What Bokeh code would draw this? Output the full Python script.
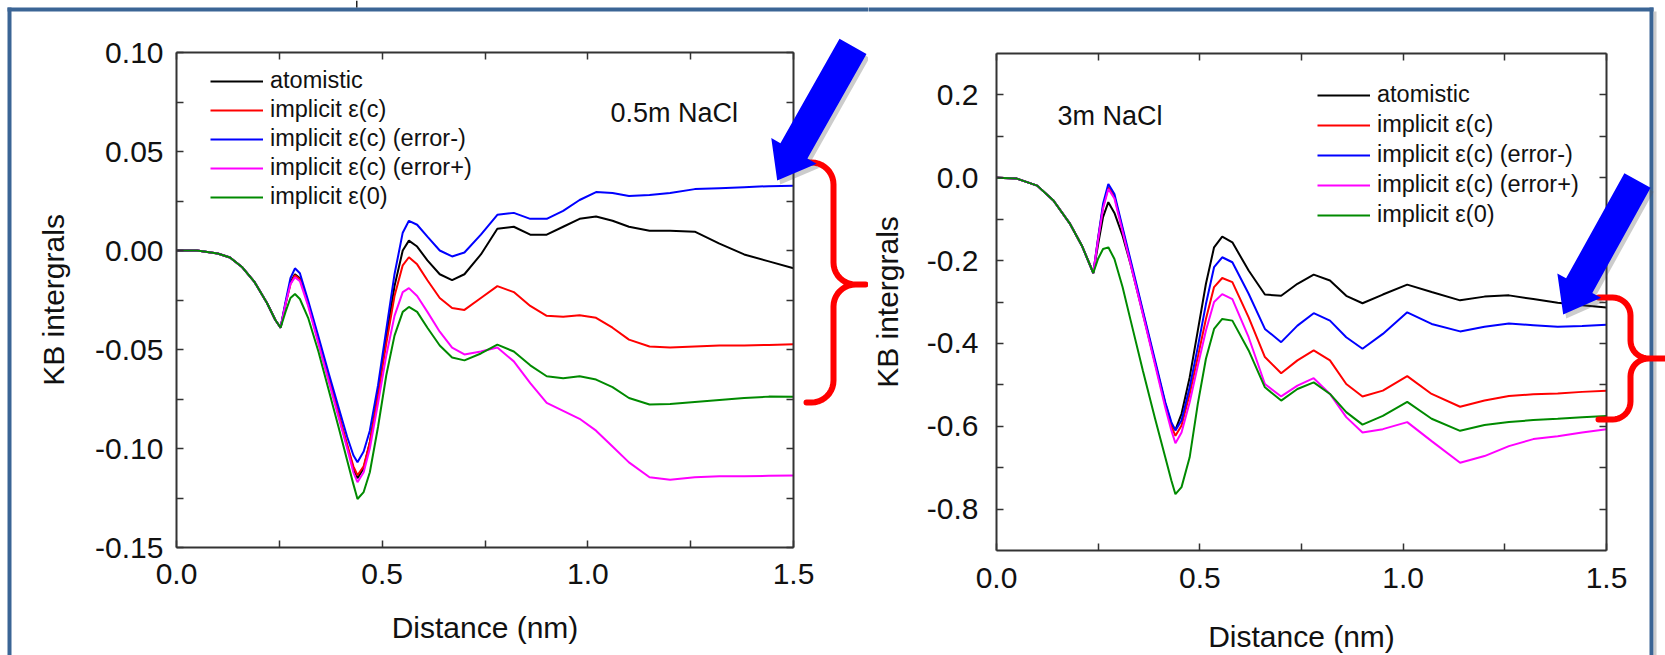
import math
from bokeh.plotting import figure
from bokeh.models import (Range1d, LinearAxis, FixedTicker, NumeralTickFormatter,
                          CustomJSTickFormatter, Legend, LegendItem, Label, PolyAnnotation)
from bokeh.layouts import row
from bokeh.embed import file_html
from bokeh.resources import INLINE

FONT = "Liberation Sans"

# ---------------- data ----------------
series_names = ["atomistic", "implicit ε(c)", "implicit ε(c) (error-)",
                "implicit ε(c) (error+)", "implicit ε(0)"]
series_colors = ["#000000", "#ff0000", "#0000ff", "#ff00ff", "#008a00"]

x_ticks = [0.0, 0.5, 1.0, 1.5]
x_minor = [0.25, 0.75, 1.25]

# 0.5m NaCl
left_y_ticks = [-0.15, -0.10, -0.05, 0.0, 0.05, 0.10]
left_y_minor = [-0.125, -0.075, -0.025, 0.025, 0.075]
left_x = [0.00, 0.05, 0.10, 0.13, 0.16, 0.19, 0.22, 0.24, 0.253,
          0.265, 0.277, 0.288, 0.30, 0.32, 0.345, 0.37, 0.395, 0.415, 0.43,
          0.44, 0.455, 0.47, 0.49, 0.51, 0.53, 0.55, 0.565, 0.585, 0.61,
          0.64, 0.67, 0.70, 0.74, 0.78, 0.82, 0.86, 0.90, 0.94, 0.98,
          1.02, 1.06, 1.10, 1.15, 1.20, 1.26, 1.32, 1.38, 1.44, 1.50]
left_common = [0.0, 0.0, -0.0015, -0.0035, -0.0085, -0.016, -0.0265, -0.035, -0.039]
left_atomistic = left_common + [
    -0.027, -0.016, -0.012, -0.014, -0.027, -0.046, -0.065, -0.084, -0.099, -0.110,
    -0.115, -0.110, -0.097, -0.072, -0.044, -0.018, 0.000, 0.005, 0.002, -0.005,
    -0.012, -0.015, -0.012, -0.002, 0.011, 0.012, 0.008, 0.008, 0.012, 0.016,
    0.0172, 0.015, 0.012, 0.010, 0.010, 0.0095, 0.0035, -0.002, -0.0055, -0.009]
left_eps_c = left_common + [
    -0.027, -0.017, -0.0125, -0.0145, -0.0265, -0.045, -0.064, -0.083, -0.098, -0.109,
    -0.1135, -0.109, -0.097, -0.073, -0.047, -0.023, -0.0075, -0.0034, -0.007, -0.015,
    -0.024, -0.029, -0.030, -0.024, -0.018, -0.021, -0.028, -0.033, -0.0335, -0.0327,
    -0.034, -0.039, -0.045, -0.0485, -0.049, -0.0485, -0.048, -0.048, -0.0477, -0.0474]
left_eps_c_minus = left_common + [
    -0.026, -0.014, -0.009, -0.0115, -0.0253, -0.0435, -0.062, -0.080, -0.0942, -0.1034,
    -0.107, -0.1015, -0.091, -0.068, -0.040, -0.012, 0.009, 0.015, 0.013, 0.007,
    0.000, -0.003, -0.001, 0.008, 0.018, 0.019, 0.016, 0.016, 0.020, 0.0255,
    0.0295, 0.029, 0.0275, 0.028, 0.029, 0.031, 0.0315, 0.032, 0.0325, 0.0327]
left_eps_c_plus = left_common + [
    -0.027, -0.017, -0.0135, -0.0155, -0.028, -0.047, -0.066, -0.085, -0.100, -0.112,
    -0.117, -0.112, -0.100, -0.077, -0.053, -0.033, -0.021, -0.019, -0.023, -0.031,
    -0.041, -0.049, -0.0525, -0.051, -0.049, -0.056, -0.067, -0.077, -0.081, -0.085,
    -0.091, -0.099, -0.107, -0.1145, -0.1158, -0.1145, -0.114, -0.114, -0.1138, -0.1136]
left_eps_0 = left_common + [
    -0.031, -0.024, -0.022, -0.0245, -0.034, -0.051, -0.0705, -0.090, -0.106, -0.118,
    -0.1255, -0.122, -0.112, -0.089, -0.063, -0.043, -0.031, -0.0285, -0.031, -0.039,
    -0.048, -0.054, -0.0555, -0.052, -0.0475, -0.051, -0.058, -0.0635, -0.0645, -0.0635,
    -0.0652, -0.069, -0.0745, -0.0778, -0.0775, -0.0765, -0.0755, -0.0745, -0.0738, -0.0739]

# 3m NaCl
right_y_ticks = [-0.8, -0.6, -0.4, -0.2, 0.0, 0.2]
right_y_minor = [-0.7, -0.5, -0.3, -0.1, 0.1]
right_x = [0.00, 0.05, 0.10, 0.14, 0.18, 0.21, 0.238,
           0.25, 0.262, 0.275, 0.29, 0.31, 0.33, 0.36, 0.39, 0.415, 0.43,
           0.44, 0.455, 0.475, 0.495, 0.515, 0.535, 0.555, 0.58, 0.62, 0.66,
           0.70, 0.74, 0.78, 0.82, 0.86, 0.90, 0.95, 1.01, 1.07, 1.14,
           1.20, 1.26, 1.32, 1.38, 1.44, 1.50]
right_common = [0.0, -0.002, -0.019, -0.055, -0.11, -0.164, -0.230]
right_atomistic = right_common + [
    -0.16, -0.095, -0.059, -0.085, -0.14, -0.21, -0.328, -0.447, -0.545, -0.595,
    -0.609, -0.57, -0.482, -0.369, -0.256, -0.168, -0.142, -0.156, -0.224, -0.282,
    -0.285, -0.256, -0.234, -0.248, -0.285, -0.303, -0.282, -0.258, -0.276, -0.296,
    -0.287, -0.284, -0.293, -0.302, -0.308, -0.313]
right_eps_c = right_common + [
    -0.146, -0.07, -0.023, -0.045, -0.125, -0.205, -0.325, -0.447, -0.548, -0.60,
    -0.623, -0.598, -0.522, -0.433, -0.341, -0.264, -0.242, -0.252, -0.337, -0.433,
    -0.472, -0.441, -0.417, -0.441, -0.498, -0.528, -0.514, -0.479, -0.522, -0.553,
    -0.538, -0.527, -0.523, -0.521, -0.517, -0.514]
right_eps_c_minus = right_common + [
    -0.144, -0.063, -0.015, -0.039, -0.12, -0.20, -0.321, -0.441, -0.542, -0.59,
    -0.61, -0.586, -0.506, -0.409, -0.305, -0.216, -0.192, -0.204, -0.28, -0.365,
    -0.397, -0.357, -0.327, -0.345, -0.385, -0.413, -0.377, -0.325, -0.353, -0.371,
    -0.36, -0.352, -0.356, -0.36, -0.358, -0.355]
right_eps_c_plus = right_common + [
    -0.148, -0.074, -0.027, -0.05, -0.13, -0.21, -0.33, -0.452, -0.555, -0.61,
    -0.641, -0.615, -0.542, -0.454, -0.369, -0.30, -0.281, -0.293, -0.385, -0.498,
    -0.528, -0.502, -0.484, -0.522, -0.578, -0.615, -0.607, -0.590, -0.636, -0.688,
    -0.672, -0.648, -0.631, -0.624, -0.615, -0.607]
right_eps_0 = right_common + [
    -0.195, -0.172, -0.168, -0.196, -0.264, -0.345, -0.466, -0.582, -0.675, -0.731,
    -0.764, -0.747, -0.675, -0.546, -0.437, -0.365, -0.341, -0.345, -0.417, -0.506,
    -0.538, -0.51, -0.494, -0.522, -0.566, -0.596, -0.575, -0.541, -0.582, -0.611,
    -0.597, -0.590, -0.585, -0.582, -0.578, -0.575]

left_series = [left_atomistic, left_eps_c, left_eps_c_minus, left_eps_c_plus, left_eps_0]
right_series = [right_atomistic, right_eps_c, right_eps_c_minus, right_eps_c_plus, right_eps_0]

# ---------------- layout helpers ----------------
TOTAL_H = 655
LEFT_W = 868
RIGHT_W = 1665 - LEFT_W


def make_chart(width, box, xlim, ylim, y_ticks, y_minor, y_fmt, xs, ys_list,
               ylab_standoff, ylab_axis_standoff, xlab_standoff,
               xlab_axis_standoff, legend_loc, legend_spacing):
    # box = pixel rectangle (left, right, top, bottom) of the plotting box on the canvas
    L, R, T, B = box
    x0, x1 = xlim
    y0, y1 = ylim
    sx = (x1 - x0) / (R - L)
    sy = (y1 - y0) / (B - T)
    p = figure(width=width, height=TOTAL_H,
               x_range=Range1d(x0 - L * sx, x1 + (width - R) * sx),
               y_range=Range1d(y0 - (TOTAL_H - B) * sy, y1 + T * sy),
               output_backend="svg", toolbar_location=None,
               x_axis_type=None, y_axis_type=None,
               min_border_left=0, min_border_right=0, min_border_top=0,
               min_border_bottom=0)
    p.min_border = 0
    p.outline_line_color = None
    p.background_fill_color = "white"
    p.border_fill_color = "white"

    def style(ax):
        ax.axis_line_width = 2
        ax.axis_line_color = "#333333"
        ax.major_tick_in = 7
        ax.major_tick_out = 0
        ax.minor_tick_in = 7
        ax.minor_tick_out = 0
        ax.major_tick_line_width = 1.5
        ax.minor_tick_line_width = 1.5
        ax.major_tick_line_color = "#333333"
        ax.minor_tick_line_color = "#333333"
        ax.major_label_text_font = FONT
        ax.major_label_text_font_size = "30px"
        ax.major_label_text_color = "#111111"
        ax.axis_label_text_font = FONT
        ax.axis_label_text_font_size = "30px"
        ax.axis_label_text_font_style = "normal"
        ax.axis_label_text_color = "#111111"

    xt = FixedTicker(ticks=x_ticks, minor_ticks=x_minor)
    yt = FixedTicker(ticks=y_ticks, minor_ticks=y_minor)

    bottom = LinearAxis(ticker=xt, formatter=NumeralTickFormatter(format="0.0"),
                        axis_label="Distance (nm)", fixed_location=y0, bounds=(x0, x1))
    style(bottom)
    bottom.major_label_standoff = xlab_standoff
    bottom.axis_label_standoff = xlab_axis_standoff
    p.add_layout(bottom, "below")

    left = LinearAxis(ticker=yt, formatter=NumeralTickFormatter(format=y_fmt),
                      axis_label="KB intergrals", fixed_location=x0, bounds=(y0, y1))
    style(left)
    left.major_label_standoff = ylab_standoff
    left.axis_label_standoff = ylab_axis_standoff
    p.add_layout(left, "left")

    blank = CustomJSTickFormatter(code="return ''")
    top = LinearAxis(ticker=xt, formatter=blank, fixed_location=y1, bounds=(x0, x1))
    style(top)
    top.major_label_text_font_size = "1px"
    p.add_layout(top, "above")
    right = LinearAxis(ticker=yt, formatter=blank, fixed_location=x1, bounds=(y0, y1))
    style(right)
    right.major_label_text_font_size = "1px"
    p.add_layout(right, "right")

    items = []
    for name, color, ys in zip(series_names, series_colors, ys_list):
        r = p.line(xs, ys, line_color=color, line_width=2)
        items.append(LegendItem(label=name, renderers=[r]))
    legend = Legend(items=items, location=legend_loc, padding=0, margin=0,
                    spacing=legend_spacing, glyph_width=53, glyph_height=26,
                    label_height=26, label_standoff=7,
                    label_text_font=FONT, label_text_font_size="23.5px",
                    label_text_color="#111111", border_line_color=None,
                    background_fill_alpha=0)
    p.add_layout(legend)
    return p


def poly(p, pts, **kw):
    p.add_layout(PolyAnnotation(xs=[a for a, _ in pts], ys=[b for _, b in pts],
                                xs_units="canvas", ys_units="canvas", **kw))


def rect(p, x0, y0, x1, y1, color, alpha=1.0):
    poly(p, [(x0, y0), (x1, y0), (x1, y1), (x0, y1)], fill_color=color,
         fill_alpha=alpha, line_color=None)


def open_path(p, pts, color, width):
    path = pts + pts[-2:0:-1]
    poly(p, path, fill_color=None, fill_alpha=0, line_color=color,
         line_width=width, line_alpha=1.0, line_join="round")


def brace(x0, x1, x2, yt, yb, yc, r, n=10):
    pts = [(x0, yt)]
    for k in range(n + 1):
        a = -math.pi / 2 + k * (math.pi / 2) / n
        pts.append((x1 - r + r * math.cos(a), yt + r + r * math.sin(a)))
    for k in range(n + 1):
        a = math.pi - k * (math.pi / 2) / n
        pts.append((x1 + r + r * math.cos(a), yc - r + r * math.sin(a)))
    pts.append((x2, yc))
    for k in range(n + 1):
        a = 1.5 * math.pi - k * (math.pi / 2) / n
        pts.append((x1 + r + r * math.cos(a), yc + r + r * math.sin(a)))
    for k in range(n + 1):
        a = k * (math.pi / 2) / n
        pts.append((x1 - r + r * math.cos(a), yb - r + r * math.sin(a)))
    pts.append((x0, yb))
    return pts


def arrow(tail, tip, w, W, L):
    dx, dy = tip[0] - tail[0], tip[1] - tail[1]
    ln = math.hypot(dx, dy)
    ux, uy = dx / ln, dy / ln
    nx, ny = -uy, ux
    bx, by = tip[0] - L * ux, tip[1] - L * uy
    return [(tail[0] + w * nx, tail[1] + w * ny), (bx + w * nx, by + w * ny),
            (bx + W * nx, by + W * ny), tip, (bx - W * nx, by - W * ny),
            (bx - w * nx, by - w * ny), (tail[0] - w * nx, tail[1] - w * ny)]


def shifted(pts, dx, dy):
    return [(a + dx, b + dy) for a, b in pts]


FRAME = "#3b6595"
ARROW = "#0000ff"
BRACE = "#ff0000"

# ---------------- left chart ----------------
p1 = make_chart(LEFT_W, (176, 793, 52, 547), (0.0, 1.5), (-0.15, 0.10),
                left_y_ticks, left_y_minor, "0.00", left_x, left_series,
                13, 22, 16, 24, (210, 445), 2)
p1.add_layout(Label(x=1.055, y=0.0696, text="0.5m NaCl", text_font=FONT,
                    text_font_size="27px", text_baseline="alphabetic",
                    text_color="#111111"))

# slide frame
rect(p1, 7, 7, 11, 660, FRAME)
rect(p1, 7, 7, LEFT_W + 2, 11, FRAME)
# remnant of previous slide above the frame
rect(p1, 355.5, 0, 357, 7, "#222222")

lb = brace(806, 833, 865, 162, 402, 284, 22)
open_path(p1, lb, BRACE, 6)
la = arrow((852.5, 45.8), (776.7, 180.0), 15.5, 26, 34)
poly(p1, shifted(la, 3, 4), fill_color="#555555", fill_alpha=0.3, line_color=None)
poly(p1, la, fill_color=ARROW, fill_alpha=1.0, line_color=None)

# ---------------- right chart ----------------
OX = LEFT_W
p2 = make_chart(RIGHT_W, (996 - OX, 1606 - OX, 53, 550), (0.0, 1.5), (-0.9, 0.3),
                right_y_ticks, right_y_minor, "0.0", right_x, right_series,
                18, 20, 17, 29, (1317 - OX, 427), 3)
p2.add_layout(Label(x=0.15, y=0.15, text="3m NaCl", text_font=FONT,
                    text_font_size="27px", text_baseline="alphabetic",
                    text_color="#111111"))

rect(p2, -2, 7, 1653 - OX, 11, FRAME)
rect(p2, 1649 - OX, 7, 1653 - OX, 660, FRAME)
rect(p2, 1653 - OX, 11, 1656 - OX, 660, "#aaaaaa", 0.6)

rb = brace(1598 - OX, 1630 - OX, 1664 - OX, 297, 419, 358, 18)
open_path(p2, rb, BRACE, 6)
ra = arrow((1637 - OX, 180.0), (1562.7 - OX, 314.0), 15, 25, 33)
poly(p2, shifted(ra, 3, 4), fill_color="#555555", fill_alpha=0.3, line_color=None)
poly(p2, ra, fill_color=ARROW, fill_alpha=1.0, line_color=None)

layout = row(p1, p2)
open("out.html", "w").write(file_html(layout, INLINE))
